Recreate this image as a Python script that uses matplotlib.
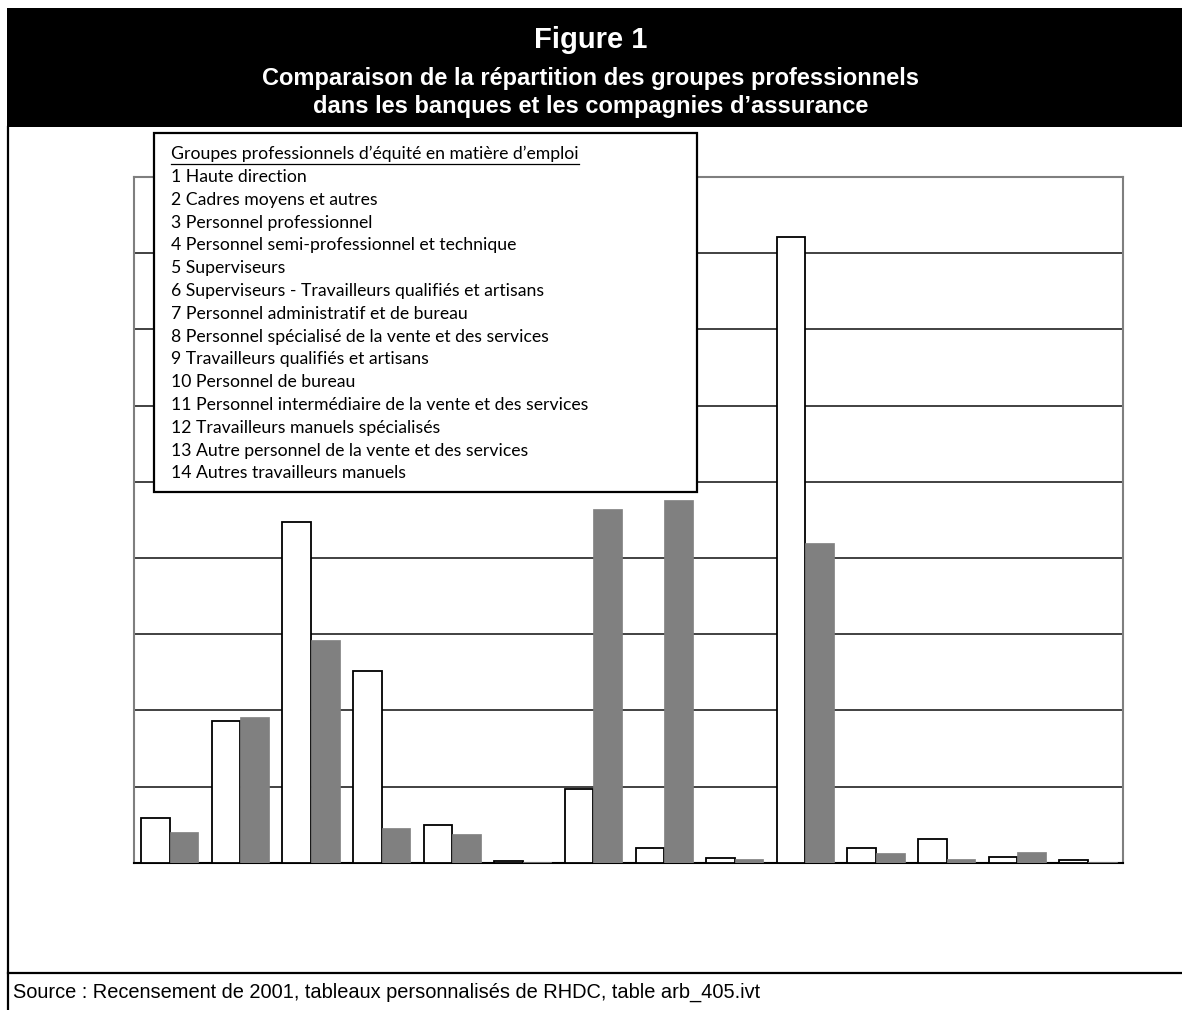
import numpy as np
import matplotlib.pyplot as plt
from matplotlib.patches import Rectangle
from matplotlib.lines import Line2D

# Occupational group shares (%), banks (white) vs insurance carriers (grey)
groups = list(range(1, 15))
banques = [2.91, 9.33, 22.37, 12.58, 2.45, 0.09, 4.83, 0.95, 0.31, 41.05, 0.94, 1.53, 0.35, 0.16]
assurances = [1.99, 9.55, 14.6, 2.25, 1.88, 0.02, 23.2, 23.8, 0.22, 21.0, 0.66, 0.22, 0.70, 0.07]
legend_title = "Groupes professionnels d\u2019équité en matière d\u2019emploi"
legend_items = [
    "1 Haute direction",
    "2 Cadres moyens et autres",
    "3 Personnel professionnel",
    "4 Personnel semi-professionnel et technique",
    "5 Superviseurs",
    "6 Superviseurs - Travailleurs qualifiés et artisans",
    "7 Personnel administratif et de bureau",
    "8 Personnel spécialisé de la vente et des services",
    "9 Travailleurs qualifiés et artisans",
    "10 Personnel de bureau",
    "11 Personnel intermédiaire de la vente et des services",
    "12 Travailleurs manuels spécialisés",
    "13 Autre personnel de la vente et des services",
    "14 Autres travailleurs manuels",
]
title_lines = ["Figure 1",
               "Comparaison de la répartition des groupes professionnels",
               "dans les banques et les compagnies d\u2019assurance"]
source = "Source : Recensement de 2001, tableaux personnalisés de RHDC, table arb_405.ivt"

W, H = 1182, 1010
fig = plt.figure(figsize=(W / 100, H / 100), dpi=100)

def fx(px):
    return px / W

def fy(py):
    return 1 - py / H

# plot area
ax = fig.add_axes([fx(134.3), fy(862.7), fx(1123.3 - 134.3), (862.7 - 177) / H])
x = np.arange(len(groups))
w = 0.405
ax.bar(x - w / 2, banques, w, color='white', edgecolor='black', linewidth=1.3, zorder=3)
ax.bar(x + w / 2, assurances, w, color='#808080', edgecolor='#808080', linewidth=0.5, zorder=3)
ax.set_xlim(-0.5, len(groups) - 0.5)
ax.set_ylim(0, 45)
for yv in range(5, 45, 5):
    ax.axhline(yv, color='#333333', linewidth=1.3, zorder=1)
ax.set_xticks([])
ax.set_yticks([])
for s in ['left', 'right', 'top']:
    ax.spines[s].set_color('#7f7f7f')
    ax.spines[s].set_linewidth(1.5)
ax.spines['bottom'].set_color('black')
ax.spines['bottom'].set_linewidth(1.5)

# header band
fig.add_artist(Rectangle((fx(7), fy(127)), 1 - fx(7), (127 - 8) / H,
                         transform=fig.transFigure, facecolor='black',
                         edgecolor='none', zorder=1))
fig.text(0.5, fy(40), title_lines[0], ha='center', va='center', color='white',
         fontsize=21, fontweight='bold', family='Liberation Sans')
fig.text(0.5, fy(79), title_lines[1], ha='center', va='center', color='white',
         fontsize=17, fontweight='bold', family='Liberation Sans')
fig.text(0.5, fy(106), title_lines[2], ha='center', va='center', color='white',
         fontsize=17, fontweight='bold', family='Liberation Sans')

# frame lines
fig.add_artist(Line2D([fx(8), fx(8)], [0, fy(127)], color='black', linewidth=1.6))
fig.add_artist(Line2D([fx(8), 1], [fy(973), fy(973)], color='black', linewidth=1.6))
fig.text(fx(13), fy(992), source, ha='left', va='center', fontsize=14.4,
         family='Liberation Sans')

# legend box drawn over the plot
fig.add_artist(Rectangle((fx(154), fy(492)), fx(697 - 154), (492 - 133) / H,
                         transform=fig.transFigure, facecolor='white',
                         edgecolor='black', linewidth=1.6, zorder=5))
step = (473.3 - 154.3) / 14
head = fig.text(fx(171), fy(154.3), legend_title, ha='left', va='center',
                fontsize=12.7, family='Lato', zorder=6)
for i, item in enumerate(legend_items):
    fig.text(fx(171), fy(154.3 + step * (i + 1)), item, ha='left', va='center',
             fontsize=12.7, family='Lato', zorder=6)

fig.canvas.draw()
bb = head.get_window_extent()
fig.add_artist(Line2D([bb.x0 / W, bb.x1 / W], [fy(163.5), fy(163.5)], color='black',
                      linewidth=0.9, zorder=6))

fig.savefig('out.png', dpi=100)
